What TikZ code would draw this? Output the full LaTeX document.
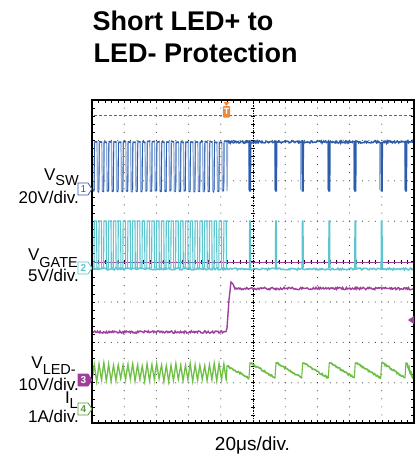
\documentclass[tikz,border=0pt]{standalone}
\usepackage{fontspec}
\setmainfont{Liberation Sans}
\definecolor{swb}{HTML}{2D5DAA}
\definecolor{swl}{HTML}{8FAEDC}
\definecolor{gtc}{HTML}{5CC6D0}
\definecolor{pur}{HTML}{9E3F9C}
\definecolor{grn}{HTML}{6CBF43}
\definecolor{grl}{HTML}{B2DC98}
\definecolor{org}{HTML}{F0883A}
\newcommand\mysub[2][5pt]{\raisebox{-#1}{\fontsize{14.5}{14.5}\selectfont #2}}
\begin{document}
\begin{tikzpicture}[x=1pt,y=-1pt,
  lab/.style={font=\fontsize{17}{17}\selectfont, anchor=base east, inner sep=0pt},
  ttl/.style={font=\fontsize{27}{27}\selectfont\bfseries, anchor=base west, inner sep=0pt},
  gdot/.style={fill=black!80},
  tick/.style={black, line width=0.5pt},
  tag/.style={line width=0.8pt}]
\pgfmathsetseed{11}
\useasboundingbox (0,0) rectangle (416,455);
\fill[white] (0,0) rectangle (416,455);
% title
\node[ttl] (t1) at (92.5,30.5) {Short LED+ to};
\node[ttl] (t2) at (93.5,62) {LED- Protection};
% grid dots
\foreach \k in {1,2,3,4,6,7,8,9}
  \foreach \j in {1,...,39}
    \fill[gdot] ({92+\k*32.2},{100+\j*8.075}) circle (0.55);
\foreach \k in {1,2,3,5,6,7}
  \foreach \j in {1,...,49}
    \fill[gdot] ({92+\j*6.44},{100+\k*40.4}) circle (0.55);
% centre axes
\draw[black, dash pattern=on 1.5pt off 1pt, line width=0.6pt] (253,100) -- (253,423);
\foreach \j in {1,...,39} \draw[tick] (251,{100+\j*8.075}) -- (255,{100+\j*8.075});
\foreach \j in {1,...,49} \fill[gdot] ({92+\j*6.44},261.5) circle (0.55);
\foreach \j in {1,...,49} \draw[tick] ({92+\j*6.44},259.5) -- ({92+\j*6.44},263.5);
% border ticks
\foreach \j in {1,...,49} {
  \draw[tick] ({92+\j*6.44},100) -- ++(0,3);
  \draw[tick] ({92+\j*6.44},423) -- ++(0,-3);
}
\foreach \j in {1,...,39} {
  \draw[tick] (92,{100+\j*8.075}) -- ++(3,0);
  \draw[tick] (414,{100+\j*8.075}) -- ++(-3,0);
}
% trigger level and purple reference
\draw[pur, dash pattern=on 3pt off 2pt, line width=0.9pt] (94,115) -- (413,115);
\draw[pur, line width=0.8pt] (94,262.5) -- (413,262.5);
% ---- CH1 VSW ----
\draw[swl, line width=1.2pt] (93,191)
  \foreach \i in {0,...,27} { -- ({93+\i*4.8+1.0},191) -- ({93+\i*4.8+1.5},142) -- ({93+\i*4.8+4.0},142) -- ({93+\i*4.8+4.5},191) }
  -- (227.6,142);
\foreach \i in {0,...,27} {
  \draw[swb, line width=1.5pt] ({93+\i*4.8+1.3},{142+rand}) -- ({93+\i*4.8+4.2},{142+rand});
  \draw[swb, line width=1.6pt] ({93+\i*4.8},{191+rand}) -- ({93+\i*4.8+1.2},{191+rand});
  \draw[swb, line width=0.8pt] ({93+\i*4.8+1.2},190) -- ({93+\i*4.8+1.5},143);
}
\draw[swb, line width=1.5pt] plot[domain=227.6:413, samples=260] (\x,{142+1.1*rand});
\foreach \d in {250,276,302.7,329.3,355.3,381.7,406} {
  \draw[swl, line width=1pt] (\d-1.8,143) -- (\d-1.8,190);
  \draw[swb, line width=1.2pt] (\d-0.8,142) -- (\d-0.5,191) -- (\d+0.5,191) -- (\d+0.8,142);
}
% ---- CH2 VGATE ----
\draw[gtc, line width=1.1pt] (93,268)
  \foreach \i in {0,...,27} { -- ({93+\i*4.8+1.0},268) -- ({93+\i*4.8+1.3},221) -- ({93+\i*4.8+3.6},221) -- ({93+\i*4.8+3.9},268) }
  -- (227.5,268);
\draw[gtc, line width=1.5pt] plot[domain=93:413, samples=300] (\x,{269+1.0*rand});
\foreach \d in {250,276,302.7,329.3,355.3,381.7}
  \draw[gtc, line width=1.1pt] (\d-0.7,268) -- (\d-0.4,221) -- (\d+0.4,221) -- (\d+0.7,268);
% ---- CH3 ----
\draw[pur, line width=1.4pt] plot[domain=93:226, samples=150] (\x,{332+1.2*rand})
  -- (227,328) -- (229,300) -- (231,282) -- (233,284) -- (235,289)
  -- plot[domain=236:413, samples=200] (\x,{288.5+1.2*rand});
% ---- CH4 ----
\draw[grl, line width=1pt] (93,376)
  \foreach \i in {0,...,27} { -- ({93+\i*4.8+1.6},{365+2*rand}) -- ({93+\i*4.8+3.9},{381+2*rand}) }
  -- (227,367);
\draw[grn, line width=1.1pt] (93,375)
  \foreach \i in {0,...,27} { -- ({93+\i*4.8+1.2},{364+2*rand}) -- ({93+\i*4.8+3.6},{380+2*rand}) }
  -- (227,366);
\foreach \a/\b/\s in {227/249/366, 250/275/362.5, 276/301.7/362.5, 302.7/328.3/362.5, 329.3/354.3/362.5, 355.3/380.7/362.5, 381.7/405/362.5, 406/413/362.5}
  \draw[grn, line width=1.6pt] plot[domain=\a:\b, samples=30] (\x,{\s+(378-\s)*(\x-\a)/(\b-\a)+0.9*rand});
\foreach \d in {250,276,302.7,329.3,355.3,381.7,406}
  \draw[grn, line width=1.1pt] (\d-1,378) -- (\d,362.5);
% frame
\draw[black, line width=2.5pt] (92,100) rectangle (414,423);
% channel tags
\draw[tag, swb, fill=white] (78,183) -- (88,183) -- (92,189) -- (88,195) -- (78,195) -- cycle;
\node[swb, font=\fontsize{10}{10}\selectfont, inner sep=0pt] (m1) at (83.5,189) {1};
\draw[tag, gtc, fill=white] (78,262) -- (88,262) -- (92,268) -- (88,274) -- (78,274) -- cycle;
\node[gtc, font=\fontsize{10}{10}\selectfont\bfseries, inner sep=0pt] (m2) at (83.5,268) {2};
\draw[tag, pur, fill=pur] (78,374) -- (88,374) -- (92,380) -- (88,386) -- (78,386) -- cycle;
\node[white, font=\fontsize{10}{10}\selectfont\bfseries, inner sep=0pt] (m3) at (83.5,380) {3};
\draw[tag, grn!80!black, fill=white] (78,403) -- (88,403) -- (92,409) -- (88,415) -- (78,415) -- cycle;
\node[grn!80!black, font=\fontsize{10}{10}\selectfont\bfseries, inner sep=0pt] (m4) at (83.5,409) {4};
% right marker
\fill[pur] (408,320) -- (414,316) -- (414,324) -- cycle;
% trigger marker
\fill[org] (223.5,102) -- (229.5,102) -- (226.5,106) -- cycle;
\fill[org, rounded corners=1pt] (222.8,106) rectangle (230.2,117.5);
\node[white, font=\fontsize{9}{9}\selectfont\bfseries, inner sep=0pt] (trg) at (226.5,111.8) {T};
% labels
\node[lab] (vsw) at (79,180) {V\mysub[5pt]{SW}};
\node[lab] (vswd) at (79,203) {20V/div.};
\node[lab] (vg) at (78,260) {V\mysub[7pt]{GATE}};
\node[lab] (vgd) at (79,281) {5V/div.};
\node[lab] (vl) at (76,368) {V\mysub[6pt]{LED-}};
\node[lab] (vld) at (79,390) {10V/div.};
\node[lab] (il) at (78,403) {I\mysub[5pt]{L}};
\node[lab] (ild) at (79,422) {1A/div.};
\node[font=\fontsize{19}{19}\selectfont, anchor=base, inner sep=0pt] (tdiv) at (252.5,450) {20μs/div.};
\end{tikzpicture}
\end{document}
